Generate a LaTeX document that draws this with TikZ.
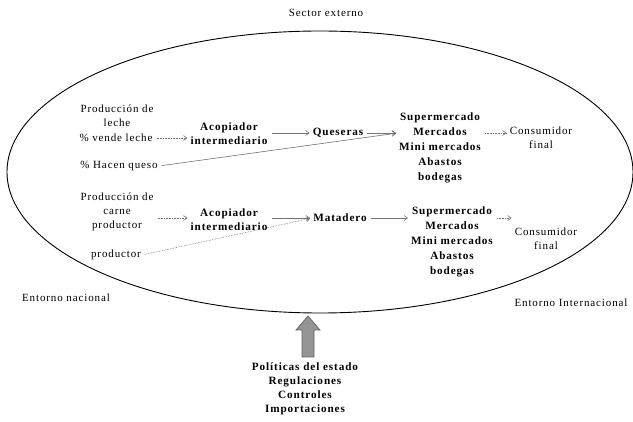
\documentclass[tikz,border=0pt]{standalone}
\usepackage{fontspec}
\setmainfont{Liberation Serif}[LetterSpace=8]
\usetikzlibrary{arrows.meta}
\tikzset{
  lbl/.style={align=center,inner sep=1pt,font=\fontsize{11}{14}\selectfont},
  blbl/.style={lbl,font=\fontsize{11.2}{14}\selectfont\bfseries},
  mlbl/.style={lbl,font=\fontsize{11.2}{15}\selectfont\bfseries},
  flow/.style={draw=black!55,line width=0.6pt,shorten <=3pt,shorten >=2pt,-{Straight Barb[length=3.5pt,width=5pt]}},
  dflow/.style={flow,densely dotted},
}
\begin{document}
\begin{tikzpicture}[x=1pt,y=-1pt]
\useasboundingbox (0,0) rectangle (633,422);
\fill[white] (0,0) rectangle (633,422);
% ellipse
\draw[line width=0.9pt] (320,172) ellipse [x radius=313, y radius=141];
% labels outside
\node[lbl] (se) at (326,13) {Sector externo};
\node[lbl] (en) at (66,298) {Entorno nacional};
\node[lbl] (ei) at (571,303) {Entorno Internacional};
% milk chain
\node[lbl] (pl) at (117,116) {Producción de\\leche};
\node[lbl] (vl) at (116,138) {\% vende leche};
\node[lbl] (hq) at (119,166) {\% Hacen queso};
\node[blbl] (ac1) at (229,134) {Acopiador\\intermediario};
\node[blbl] (qu) at (338,133) {Queseras};
\node[mlbl] (sm1) at (440,147.5) {Supermercado\\Mercados\\Mini mercados\\Abastos\\bodegas};
\node[lbl] (cf1) at (541,138) {Consumidor\\final};
% meat chain
\node[lbl] (pc) at (117,212) {Producción de\\carne\\productor};
\node[lbl] (pr) at (116,255) {productor};
\node[blbl] (ac2) at (229,220) {Acopiador\\intermediario};
\node[blbl] (ma) at (340,218) {Matadero};
\node[mlbl] (sm2) at (452,241.5) {Supermercado\\Mercados\\Mini mercados\\Abastos\\bodegas};
\node[lbl] (cf2) at (546,239) {Consumidor\\final};
% policies
\node[blbl] (po) at (305,389) {Políticas del estado\\Regulaciones\\Controles\\Importaciones};
\filldraw[fill=black!42, draw=black!62, line width=0.7pt]
  (308,316) -- (320,330) -- (314,330) -- (314,357) -- (302,357) -- (302,330) -- (296,330) -- cycle;
% connectors
\coordinate (m1) at (sm1.west |- qu);
\coordinate (m2) at (sm2.west |- ma);
\draw[dflow] (vl.east) -- (vl.east -| ac1.west);
\draw[flow] (ac1.east |- qu) -- (qu.west);
\draw[flow] (qu.east) -- (m1);
\draw[flow] (hq.east) -- (m1);
\draw[dflow] (sm1.east |- qu) -- (cf1.west |- qu);
\draw[dflow] (pc.east |- ma) -- (ac2.west |- ma);
\draw[flow] (ac2.east |- ma) -- (ma.west);
\draw[flow] (ma.east) -- (m2);
\draw[dflow] (pr.east) -- (ma.west);
\draw[dflow] (sm2.east |- ma) -- (cf2.west |- ma);
\end{tikzpicture}
\end{document}
